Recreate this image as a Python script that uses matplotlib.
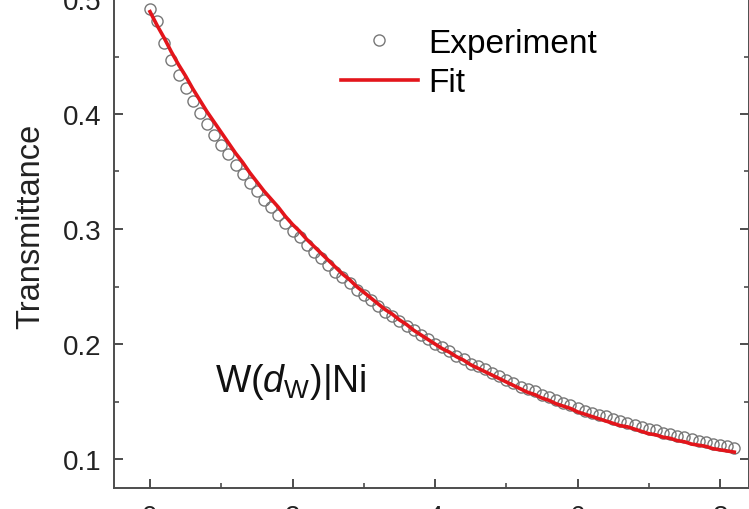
import numpy as np
import matplotlib
matplotlib.use("Agg")
import matplotlib.pyplot as plt
from matplotlib.ticker import MultipleLocator

plt.rcParams.update({
    "font.family": ["Liberation Sans", "DejaVu Sans"],
    "mathtext.fontset": "custom",
    "mathtext.rm": "Liberation Sans",
    "mathtext.it": "Liberation Sans:italic",
    "axes.linewidth": 1.4,
    "axes.edgecolor": "#4d4d4d",
    "xtick.direction": "in",
    "ytick.direction": "in",
    "xtick.color": "#4d4d4d",
    "ytick.color": "#4d4d4d",
    "xtick.labelcolor": "#222222",
    "ytick.labelcolor": "#222222",
})

# ---- data ----
thickness = np.round(np.arange(0, 83) * 0.1, 1)   # 0.0 ... 8.2

experiment = [
    0.491, 0.481, 0.462, 0.447, 0.434, 0.423, 0.411, 0.401, 0.391, 0.382,
    0.373, 0.365, 0.356, 0.348, 0.340, 0.333, 0.325, 0.319, 0.312, 0.305,
    0.298, 0.293, 0.286, 0.280, 0.275, 0.269, 0.263, 0.258, 0.253, 0.247,
    0.243, 0.238, 0.233, 0.228, 0.224, 0.220, 0.216, 0.212, 0.208, 0.204,
    0.200, 0.197, 0.194, 0.190, 0.187, 0.183, 0.181, 0.178, 0.175, 0.172,
    0.169, 0.166, 0.163, 0.161, 0.159, 0.156, 0.154, 0.151, 0.149, 0.147,
    0.144, 0.142, 0.140, 0.138, 0.137, 0.135, 0.133, 0.131, 0.130, 0.128,
    0.126, 0.125, 0.123, 0.122, 0.120, 0.119, 0.117, 0.116, 0.115, 0.113,
    0.112, 0.111, 0.110,
]

fit = [
    0.489, 0.477, 0.466, 0.454, 0.443, 0.433, 0.422, 0.412, 0.402, 0.393,
    0.384, 0.375, 0.366, 0.358, 0.349, 0.341, 0.333, 0.326, 0.319, 0.311,
    0.304, 0.298, 0.291, 0.285, 0.279, 0.273, 0.267, 0.261, 0.256, 0.250,
    0.245, 0.240, 0.235, 0.230, 0.226, 0.221, 0.217, 0.212, 0.208, 0.204,
    0.200, 0.196, 0.193, 0.189, 0.186, 0.182, 0.179, 0.176, 0.173, 0.170,
    0.167, 0.164, 0.161, 0.158, 0.156, 0.153, 0.151, 0.148, 0.146, 0.144,
    0.141, 0.139, 0.137, 0.135, 0.133, 0.131, 0.129, 0.128, 0.126, 0.124,
    0.122, 0.121, 0.119, 0.118, 0.116, 0.115, 0.113, 0.112, 0.111, 0.109,
    0.108, 0.107, 0.106,
]

# ---- figure (the original is a crop, so the axes run past the edges) ----
W, H = 749, 510
fig = plt.figure(figsize=(W / 100, H / 100), dpi=100)
x0, x1 = -0.5, 8.4
y0, y1 = 0.075, 0.52
px_x = 71.25      # pixels per x unit
px_y = 1150.0     # pixels per y unit
left_px = 150 - (0 - x0) * px_x
bottom_px = H - 488.75
ax = fig.add_axes([left_px / W, bottom_px / H,
                   (x1 - x0) * px_x / W, (y1 - y0) * px_y / H])

ax.plot(thickness, experiment, "o", markersize=8, markerfacecolor="none",
        markeredgecolor="#777777", markeredgewidth=1.0, label="Experiment",
        zorder=2)
ax.plot(thickness, fit, "-", color="#e3151b", linewidth=2.6, label="Fit",
        zorder=3)

ax.set_xlim(x0, x1)
ax.set_ylim(y0, y1)
ax.xaxis.set_major_locator(MultipleLocator(2))
ax.xaxis.set_minor_locator(MultipleLocator(1))
ax.yaxis.set_major_locator(MultipleLocator(0.1))
ax.yaxis.set_minor_locator(MultipleLocator(0.05))
ax.tick_params(which="both", right=True, top=True, labelsize=20)
ax.tick_params(which="major", length=6.5, width=1.4)
ax.tick_params(which="minor", length=3.5, width=1.2)
ax.tick_params(axis="x", pad=12)
ax.tick_params(axis="y", pad=9)

ax.set_ylabel("Transmittance", fontsize=23.5, color="#222222")
ax.yaxis.set_label_coords(-0.108, 0.513)

ax.text(0.91, 0.159, r"W($d_{\rm W}$)|Ni", fontsize=27, color="#111111",
        ha="left", va="baseline")

ax.legend(loc="upper left", bbox_to_anchor=(341 / W, 1 - 29 / H),
          bbox_transform=fig.transFigure, frameon=False, fontsize=24,
          borderpad=0, borderaxespad=0, handlelength=2.3,
          handletextpad=0.33, labelspacing=0.25, markerscale=1.0)

fig.savefig("out.png", dpi=100)
